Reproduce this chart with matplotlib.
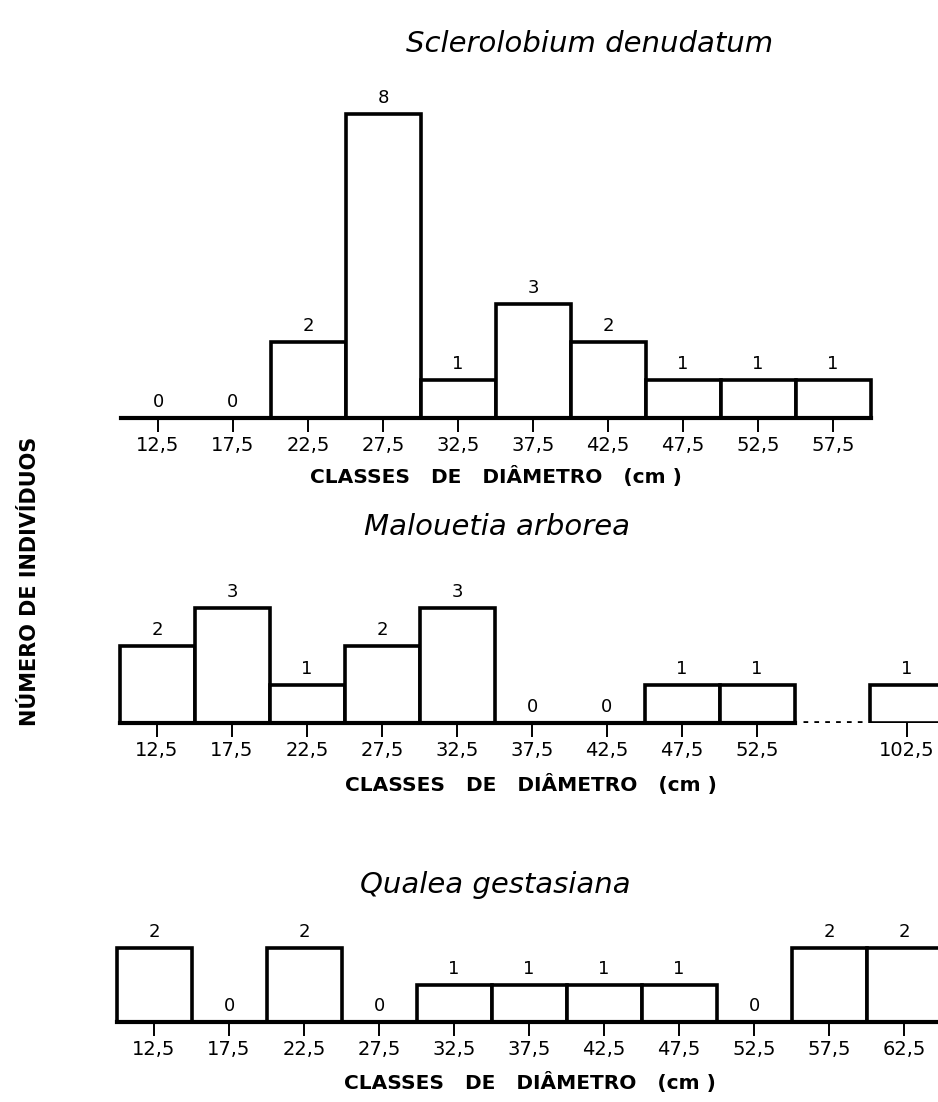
import numpy as np
import matplotlib
matplotlib.use("Agg")
import matplotlib.pyplot as plt

# DATA
titles = ["Sclerolobium denudatum", "Malouetia arborea", "Qualea gestasiana"]

classes_1 = ["12,5", "17,5", "22,5", "27,5", "32,5", "37,5", "42,5", "47,5", "52,5", "57,5"]
counts_1 = [0, 0, 2, 8, 1, 3, 2, 1, 1, 1]

classes_2 = ["12,5", "17,5", "22,5", "27,5", "32,5", "37,5", "42,5", "47,5", "52,5", "102,5"]
counts_2 = [2, 3, 1, 2, 3, 0, 0, 1, 1, 1]

classes_3 = ["12,5", "17,5", "22,5", "27,5", "32,5", "37,5", "42,5", "47,5", "52,5", "57,5", "62,5"]
counts_3 = [2, 0, 2, 0, 1, 1, 1, 1, 0, 2, 2]

xlabel = "CLASSES   DE   DIÂMETRO   (cm )"
ylabel = "NÚMERO DE INDIVÍDUOS"

W, H = 938, 1102
fig = plt.figure(figsize=(W / 100, H / 100), dpi=100)
fig.patch.set_facecolor("white")

CLASS_PX = 75  # pixels per class


def panel(slots, labels, counts, x0, base, unit, top_units, axis_end):
    # axes spanning the whole width, x in class-slot units
    h = top_units * unit
    ax = fig.add_axes([0, (H - base) / H, 1, h / H])
    ax.set_xlim(-x0 / CLASS_PX, (W - x0) / CLASS_PX)
    ax.set_ylim(0, top_units)
    bars = ax.bar(slots, counts, width=1.0, facecolor="white",
                  edgecolor="black", linewidth=2.6)
    ax.bar_label(bars, fmt="%d", padding=5, fontsize=13)
    for s in ["top", "left", "right"]:
        ax.spines[s].set_visible(False)
    ax.spines["bottom"].set_linewidth(3)
    ax.spines["bottom"].set_bounds(-0.5, axis_end)
    ax.set_yticks([])
    ax.set_xticks(slots)
    ax.set_xticklabels(labels, fontsize=14)
    ax.tick_params(axis="x", direction="out", length=10, width=1.4, pad=3)
    ax.patch.set_visible(False)
    return ax


# panel 1
panel(np.arange(len(classes_1)), classes_1, counts_1, 158, 418, 38, 9, 9.5)

# panel 2 (broken axis: 102,5 placed after a dotted gap)
slots_2 = np.r_[np.arange(len(classes_2) - 1), len(classes_2)]
ax2 = panel(slots_2, classes_2, counts_2, 157, 723, 38.3, 4, 8.5)
ax2.plot([8.62, 9.42], [0, 0], color="black", linewidth=3.4,
         linestyle=(0, (1, 1.3)), solid_capstyle="butt")

# panel 3
panel(np.arange(len(classes_3)), classes_3, counts_3, 154, 1022, 37, 3, 11)


def ftext(x, y, s, **kw):
    fig.text(x / W, 1 - y / H, s, **kw)


# titles
ftext(590, 52, titles[0], fontsize=21, style="italic", ha="center", va="baseline")
ftext(497, 535, titles[1], fontsize=21, style="italic", ha="center", va="baseline")
ftext(495, 893, titles[2], fontsize=21, style="italic", ha="center", va="baseline")

# x labels
ftext(496, 477, xlabel, fontsize=14.5, fontweight="bold", ha="center", va="center")
ftext(531, 785, xlabel, fontsize=14.5, fontweight="bold", ha="center", va="center")
ftext(530, 1082, xlabel, fontsize=14.5, fontweight="bold", ha="center", va="center")

# y label
ftext(30, 581, ylabel, fontsize=15, fontweight="bold", rotation=90,
      ha="center", va="center")

fig.savefig("out.png", dpi=100, facecolor="white")
